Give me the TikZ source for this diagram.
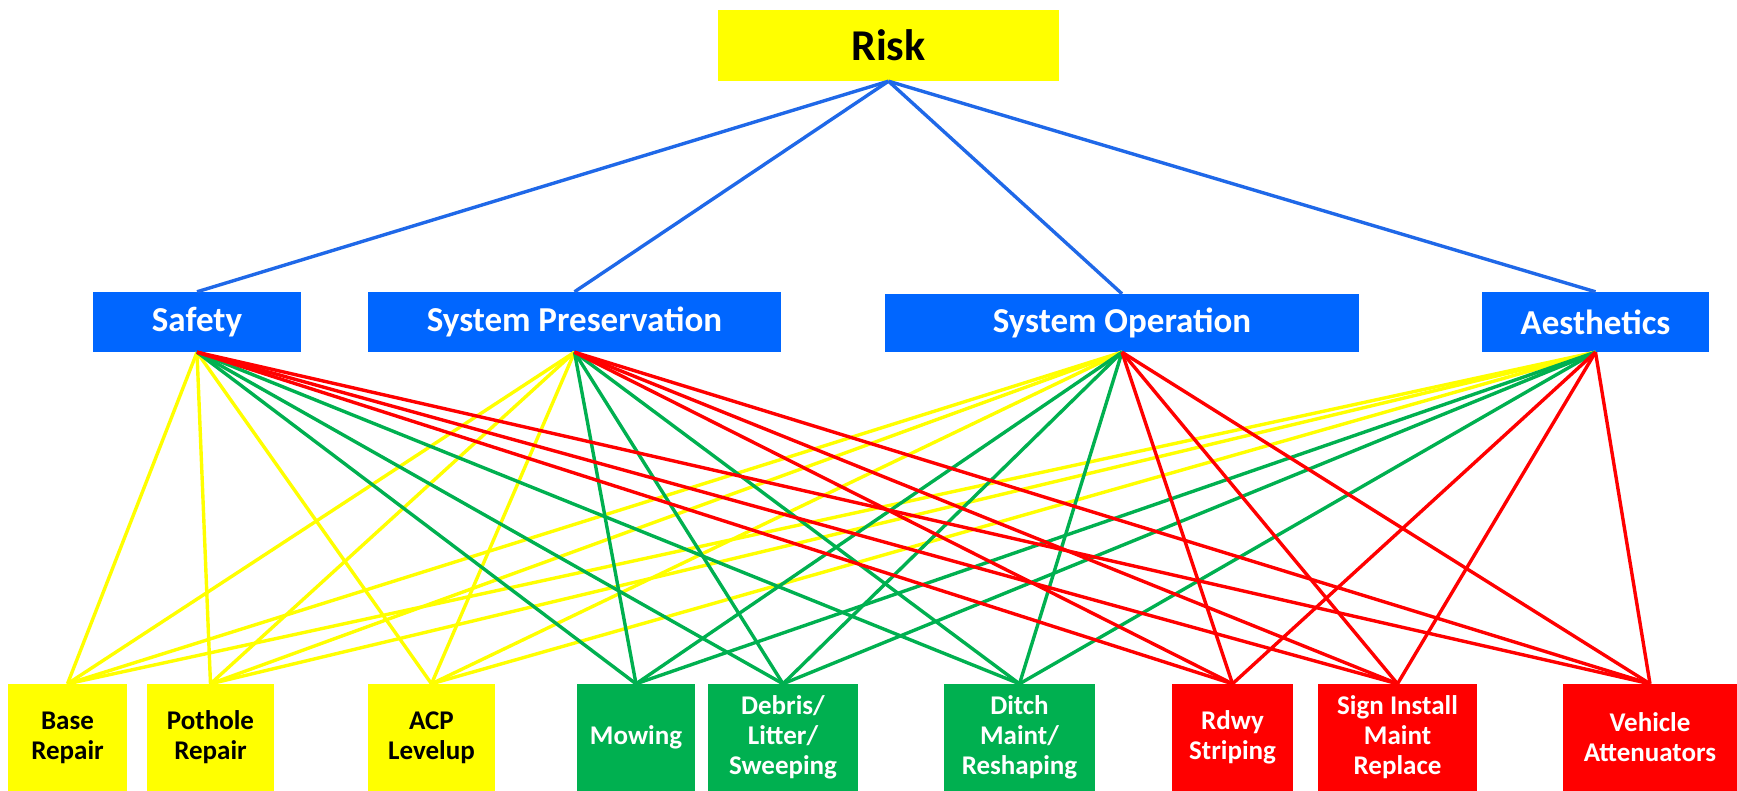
\documentclass[tikz,border=0pt]{standalone}
\usepackage{fontspec}
\setmainfont{Carlito}
\usepackage{tikz}

\definecolor{boxyellow}{RGB}{255,255,0}
\definecolor{boxblue}{RGB}{0,102,255}
\definecolor{boxgreen}{RGB}{0,176,80}
\definecolor{boxred}{RGB}{255,0,0}
\definecolor{edgeblue}{RGB}{31,104,232}

\tikzset{
  box/.style={rectangle, inner sep=0pt, align=center},
  goal/.style={box, fill=boxyellow, font=\fontsize{44}{48}\selectfont\bfseries},
  crit/.style={box, fill=boxblue, text=white, minimum height=60pt,
    font=\fontsize{35}{40}\selectfont\bfseries},
  act/.style={box, minimum height=107pt, font=\fontsize{27}{30}\selectfont\bfseries},
  yact/.style={act, fill=boxyellow},
  gact/.style={act, fill=boxgreen, text=white},
  ract/.style={act, fill=boxred, text=white},
  link/.style={line width=3.4pt}
}

\begin{document}
\begin{tikzpicture}[x=1pt,y=-1pt]
    \useasboundingbox (0,0) rectangle (1737,791);

    \node[goal, minimum width=341pt, minimum height=71pt] (risk) at (888.5,45.5) {Risk};

    \node[crit, minimum width=208pt] (safety) at (197,322) {Safety};
    \node[crit, minimum width=413pt] (pres) at (574.5,322) {System Preservation};
    \node[crit, minimum width=474pt, minimum height=58pt] (oper) at (1122,323) {System Operation};
    \node[crit, minimum width=227pt] (aesth) at (1595.5,322) {Aesthetics};

    \node[yact, minimum width=119pt] (base) at (67.5,737.5) {Base\\Repair};
    \node[yact, minimum width=127pt] (pothole) at (210.5,737.5) {Pothole\\Repair};
    \node[yact, minimum width=127pt] (acp) at (431.5,737.5) {ACP\\Levelup};

    \node[gact, minimum width=118pt] (mowing) at (636,737.5) {Mowing};
    \node[gact, minimum width=150pt] (debris) at (783,737.5) {Debris/\\Litter/\\Sweeping};
    \node[gact, minimum width=151pt] (ditch) at (1019.5,737.5) {Ditch\\Maint/\\Reshaping};

    \node[ract, minimum width=121pt] (rdwy) at (1232.5,737.5) {Rdwy\\Striping};
    \node[ract, minimum width=159pt] (sign) at (1397.5,737.5) {Sign Install\\Maint\\Replace};
    \node[ract, minimum width=174pt] (vehicle) at (1650,737.5) {Vehicle\\Attenuators};

    \draw[link, edgeblue] (risk.south) edge (safety.north) edge (pres.north)
      edge (oper.north) edge (aesth.north);

    \draw[link, boxyellow] (safety.south) edge (base.north) edge (pothole.north) edge (acp.north);
    \draw[link, boxyellow] (pres.south) edge (base.north) edge (pothole.north) edge (acp.north);
    \draw[link, boxyellow] (oper.south) edge (base.north) edge (pothole.north) edge (acp.north);
    \draw[link, boxyellow] (aesth.south) edge (base.north) edge (pothole.north) edge (acp.north);

    \draw[link, boxgreen] (safety.south) edge (mowing.north) edge (debris.north) edge (ditch.north);
    \draw[link, boxgreen] (pres.south) edge (mowing.north) edge (debris.north) edge (ditch.north);
    \draw[link, boxgreen] (oper.south) edge (mowing.north) edge (debris.north) edge (ditch.north);
    \draw[link, boxgreen] (aesth.south) edge (mowing.north) edge (debris.north) edge (ditch.north);

    \draw[link, boxred] (safety.south) edge (rdwy.north) edge (sign.north) edge (vehicle.north);
    \draw[link, boxred] (pres.south) edge (rdwy.north) edge (sign.north) edge (vehicle.north);
    \draw[link, boxred] (oper.south) edge (rdwy.north) edge (sign.north) edge (vehicle.north);
    \draw[link, boxred] (aesth.south) edge (rdwy.north) edge (sign.north) edge (vehicle.north);

  \end{tikzpicture}
\end{document}
